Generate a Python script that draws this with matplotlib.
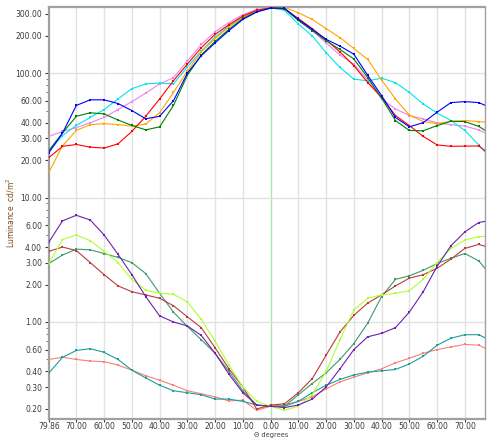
import matplotlib
matplotlib.use("Agg")
import matplotlib.pyplot as plt
from matplotlib.ticker import FixedLocator, FuncFormatter, LogLocator, NullFormatter

# angle (degrees), negative = left half
theta = [-79.86, -75, -70, -65, -60, -55, -50, -45, -40, -35, -30, -25, -20, -15, -10, -5, 0,
         5, 10, 15, 20, 25, 30, 35, 40, 45, 50, 55, 60, 65, 70, 75, 79.86]

# upper group (bright state)
lum_blue = [23, 33, 55, 61, 61, 57, 50, 43, 45, 60, 100, 138, 175, 220, 270, 310, 333,
            333, 270, 225, 187, 165, 142, 96, 66, 44, 37, 40, 48.5, 58, 59, 58, 52]
lum_green = [24, 33, 45, 48, 47, 42, 38, 35, 37, 55, 96, 140, 180, 225, 275, 312, 333,
             330, 265, 220, 182, 155, 130, 92, 63, 41.6, 34.6, 34.4, 37.9, 41, 40.8, 37.3, 32]
lum_orange = [16, 26, 34.7, 38.5, 39.3, 38.6, 37.5, 39, 48, 70, 104, 148, 190, 235, 280, 315, 335,
              338, 306, 270, 228, 193, 158, 129, 88, 62, 46, 40.8, 39.3, 41, 41.6, 40.8, 40]
lum_red = [21, 25.8, 26.7, 25.4, 25, 27, 34, 45, 62, 87, 118, 160, 205, 245, 288, 320, 335,
           328, 275, 228, 185, 148, 115, 84, 64, 45.6, 37.9, 31, 26.5, 25.8, 25.9, 26, 21.5]
lum_cyan = [23.5, 31.5, 38, 44, 51, 62, 75, 82, 83, 82, 112, 150, 195, 240, 285, 318, 335,
            320, 248, 199, 146, 111, 89.5, 86.7, 91, 84, 70, 56.5, 47.7, 41.6, 34.6, 26.5, 20]
lum_violet = [31, 34, 36.5, 40, 44, 51, 59, 69, 82, 92, 125, 170, 215, 255, 295, 325, 335,
              325, 270, 220, 175, 140, 118, 88, 62, 51.5, 45.6, 42.9, 39.8, 38.6, 37.5, 35, 31]

# lower group (dark state)
lum_purple = [4.4, 6.5, 7.2, 6.6, 5.0, 3.5, 2.4, 1.6, 1.12, 1.0, 0.93, 0.78, 0.56, 0.38, 0.27, 0.215, 0.21,
              0.205, 0.215, 0.24, 0.30, 0.42, 0.6, 0.76, 0.81, 0.9, 1.2, 1.75, 2.8, 4.1, 5.3, 6.3, 6.6]
lum_lime = [2.95, 4.6, 5.0, 4.5, 3.7, 3.0, 2.2, 1.8, 1.7, 1.67, 1.45, 1.05, 0.70, 0.45, 0.30, 0.23, 0.21,
            0.195, 0.21, 0.26, 0.40, 0.72, 1.25, 1.55, 1.65, 1.7, 1.78, 2.2, 3.0, 3.9, 4.55, 4.85, 4.9]
lum_brown = [3.7, 4.0, 3.75, 3.0, 2.4, 1.95, 1.75, 1.65, 1.55, 1.35, 1.1, 0.9, 0.62, 0.42, 0.3, 0.2, 0.215,
             0.22, 0.27, 0.35, 0.54, 0.83, 1.13, 1.42, 1.65, 1.95, 2.25, 2.4, 2.7, 3.2, 3.9, 4.2, 3.9]
lum_seagreen = [2.95, 3.45, 3.85, 3.8, 3.55, 3.3, 3.0, 2.45, 1.7, 1.2, 0.92, 0.72, 0.56, 0.4, 0.28, 0.215, 0.21,
                0.21, 0.26, 0.32, 0.39, 0.5, 0.67, 0.98, 1.6, 2.2, 2.35, 2.6, 2.95, 3.25, 3.55, 3.1, 2.3]
lum_teal = [0.39, 0.52, 0.59, 0.61, 0.57, 0.50, 0.41, 0.355, 0.31, 0.28, 0.27, 0.26, 0.24, 0.24, 0.23, 0.215, 0.21,
            0.21, 0.23, 0.27, 0.31, 0.345, 0.375, 0.395, 0.405, 0.415, 0.46, 0.53, 0.65, 0.74, 0.79, 0.79, 0.7]
lum_salmon = [0.5, 0.52, 0.5, 0.485, 0.48, 0.45, 0.41, 0.37, 0.34, 0.31, 0.28, 0.265, 0.25, 0.232, 0.235, 0.195, 0.21,
              0.215, 0.23, 0.25, 0.29, 0.33, 0.36, 0.39, 0.42, 0.47, 0.51, 0.56, 0.6, 0.63, 0.66, 0.65, 0.58]

series = [
    (lum_violet, "#ee82ee"),
    (lum_cyan, "#00e5ee"),
    (lum_orange, "#ffa500"),
    (lum_red, "#ff0000"),
    (lum_green, "#008000"),
    (lum_blue, "#0000ff"),
    (lum_salmon, "#fa8072"),
    (lum_teal, "#1a9e9e"),
    (lum_seagreen, "#3c9a6a"),
    (lum_brown, "#b83c3c"),
    (lum_lime, "#adff2f"),
    (lum_purple, "#7020b0"),
]

y_ticks = [0.2, 0.3, 0.4, 0.6, 1, 2, 3, 4, 6, 10, 20, 30, 40, 60, 100, 200, 300]
x_ticks = [-79.86, -70, -60, -50, -40, -30, -20, -10, 0, 10, 20, 30, 40, 50, 60, 70]

fig = plt.figure(figsize=(4.95, 4.38), dpi=100)
# axes box: x 49..485 px, y 7..419 px
ax = fig.add_axes([0.099, 1 - 419 / 438, 0.881, 412 / 438])

# grid: vertical every 10 deg, 0 deg in green, horizontal only at decades
for xv in x_ticks[1:]:
    ax.axvline(xv, color="#a8e8a8" if xv == 0 else "#e2e2e2", lw=1.0, zorder=0)
for yv in [1, 10, 100]:
    ax.axhline(yv, color="#e2e2e2", lw=1.0, zorder=0)

for vals, col in series:
    ax.plot(theta, vals, color=col, lw=0.8, marker="s", ms=1.6, mew=0, zorder=3)

ax.set_yscale("log")
ax.set_ylim(0.166, 340)
ax.set_xlim(-79.86, 77.3)

ax.yaxis.set_major_locator(FixedLocator(y_ticks))
ax.yaxis.set_major_formatter(FuncFormatter(lambda v, p: f"{v:.2f}"))
ax.yaxis.set_minor_locator(LogLocator(base=10, subs=range(2, 10), numticks=20))
ax.yaxis.set_minor_formatter(NullFormatter())
ax.xaxis.set_major_locator(FixedLocator(x_ticks))
ax.xaxis.set_major_formatter(FuncFormatter(lambda v, p: f"{abs(v):.2f}"))

ax.tick_params(axis="y", which="major", labelsize=5.5, colors="#3a3a3a", length=3, width=0.8, pad=2)
ax.tick_params(axis="x", which="major", labelsize=5.5, colors="#3a3a3a", length=2, width=0.8, pad=0.5)
ax.tick_params(axis="y", which="minor", length=2, width=0.6, colors="#666666")

for side in ["left", "bottom", "top"]:
    ax.spines[side].set_color("#a0a0a0")
    ax.spines[side].set_linewidth(1.6)
ax.spines["right"].set_color("#a0a0a0")
ax.spines["right"].set_linewidth(1.0)

ax.set_ylabel("Luminance  cd/m$^2$", fontsize=5.5, color="#7a4a1a")
ax.yaxis.set_label_coords(-0.073, 0.5)
fig.text(271 / 495, 0.3 / 438, "Θ degrees", fontsize=4.8, color="#444444", ha="center", va="bottom")

fig.savefig("out.png", dpi=100)
